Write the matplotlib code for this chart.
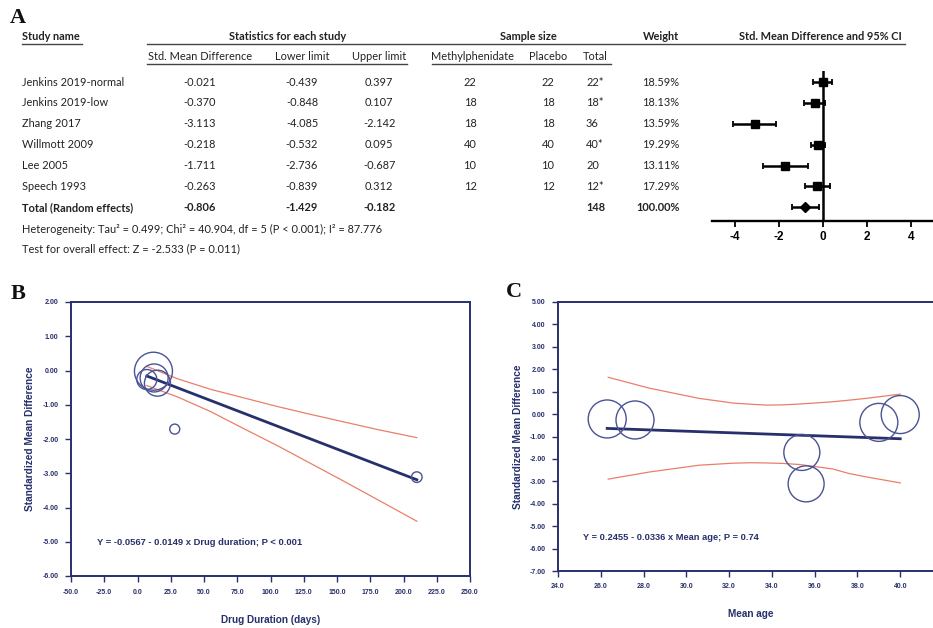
import numpy as np
import matplotlib.pyplot as plt
from matplotlib.lines import Line2D

plt.rcParams['axes.unicode_minus'] = False

# ---- panel A: forest table
studies = ['Jenkins 2019-normal', 'Jenkins 2019-low', 'Zhang 2017',
           'Willmott 2009', 'Lee 2005', 'Speech 1993']
smd = [-0.021, -0.370, -3.113, -0.218, -1.711, -0.263]
lower = [-0.439, -0.848, -4.085, -0.532, -2.736, -0.839]
upper = [0.397, 0.107, -2.142, 0.095, -0.687, 0.312]
n_mph = [22, 18, 18, 40, 10, 12]
n_placebo = [22, 18, 18, 40, 10, 12]
n_total = ['22*', '18*', '36', '40*', '20', '12*']
weight = [18.59, 18.13, 13.59, 19.29, 13.11, 17.29]
total_smd, total_lo, total_hi = -0.806, -1.429, -0.182
total_n = 148
total_w = 100.00
het_text = 'Heterogeneity: Tau\u00b2 = 0.499; Chi\u00b2 = 40.904, df = 5 (P < 0.001); I\u00b2 = 87.776'
test_text = 'Test for overall effect: Z = -2.533 (P = 0.011)'

# ---- panel B: meta-regression on drug duration
duration = [12, 15, 210, 12.5, 28, 7]
b_line_x = [7, 210]
b_line_y = [-0.16, -3.19]
b_ci_x = [7, 30, 55, 80, 105, 130, 155, 180, 210]
b_ci_hi = [0.12, -0.24, -0.55, -0.80, -1.05, -1.28, -1.50, -1.72, -1.96]
b_ci_lo = [-0.44, -0.77, -1.20, -1.70, -2.19, -2.71, -3.23, -3.76, -4.40]
b_eq = 'Y = -0.0567 - 0.0149 x Drug duration; P < 0.001'

# ---- panel C: meta-regression on mean age
mean_age = [40.0, 39.0, 35.6, 26.3, 35.4, 27.6]
c_line_x = [26.3, 40.0]
c_line_y = [-0.64, -1.10]
c_ci_x = [26.35, 28.3, 30.6, 32.2, 33.0, 33.75, 34.5, 35.3, 36.1, 36.85, 37.6, 38.4, 40.0]
c_ci_hi = [1.64, 1.15, 0.70, 0.49, 0.44, 0.40, 0.41, 0.45, 0.50, 0.55, 0.62, 0.70, 0.89]
c_ci_lo = [-2.90, -2.58, -2.28, -2.19, -2.17, -2.18, -2.20, -2.25, -2.35, -2.45, -2.65, -2.80, -3.07]
c_eq = 'Y = 0.2455 - 0.0336 x Mean age; P = 0.74'

# bubble radii in pixels
b_radius = [19, 13, 5.3, 14, 5, 10]
c_radius = [19, 19, 18, 19, 18, 19]

W, H = 933, 628
fig = plt.figure(figsize=(W / 100, H / 100), dpi=100)

NAVY = '#27306b'
CIRC = '#4a5394'
RED = '#ea7f68'
TXT = '#222222'
tfont = 'Lato'
tsize = 7.9


def fx(x):
    return x / W


def fy(y):
    return 1 - y / H


def put(x, y, s, ha='left', bold=False):
    fig.text(fx(x), fy(y), s, ha=ha, va='center', family=tfont, size=tsize,
             color=TXT, weight='bold' if bold else 'normal')


def hline(x0, x1, y):
    fig.add_artist(Line2D([fx(x0), fx(x1)], [fy(y), fy(y)],
                          transform=fig.transFigure, color='#444444', lw=1.0))


# panel letters
for lab, x, y in [('A', 10, 18), ('B', 11, 294), ('C', 506, 292)]:
    fig.text(fx(x), fy(y), lab, family='Liberation Serif', weight='bold',
             size=16, va='center', ha='left', color='#111111')

# headers
put(22, 37, 'Study name', bold=True)
put(288, 37, 'Statistics for each study', ha='center', bold=True)
put(528, 37, 'Sample size', ha='center', bold=True)
put(661, 37, 'Weight', ha='center', bold=True)
put(820, 37, 'Std. Mean Difference and 95% CI', ha='center', bold=True)
hline(22, 82, 44)
hline(147, 905, 44)
put(200, 57, 'Std. Mean Difference', ha='center')
put(302, 57, 'Lower limit', ha='center')
put(379, 57, 'Upper limit', ha='center')
put(473, 57, 'Methylphenidate', ha='center')
put(548, 57, 'Placebo', ha='center')
put(595, 57, 'Total', ha='center')
hline(147, 407, 64)
hline(432, 611, 64)

row0, step = 82, 20.9
for i, name in enumerate(studies):
    y = row0 + i * step
    put(22, y, name)
    put(200, y, f'{smd[i]:.3f}', ha='center')
    put(302, y, f'{lower[i]:.3f}', ha='center')
    put(379, y, f'{upper[i]:.3f}', ha='center')
    put(470, y, str(n_mph[i]), ha='center')
    put(548, y, str(n_placebo[i]), ha='center')
    put(586, y, n_total[i])
    put(679, y, f'{weight[i]:.2f}%', ha='right')
yt = row0 + len(studies) * step
put(22, yt, 'Total (Random effects)', bold=True)
put(200, yt, f'{total_smd:.3f}', ha='center', bold=True)
put(302, yt, f'{total_lo:.3f}', ha='center', bold=True)
put(379, yt, f'{total_hi:.3f}', ha='center', bold=True)
put(586, yt, str(total_n), bold=True)
put(680, yt, f'{total_w:.2f}%', ha='right', bold=True)
put(22, 229, het_text)
put(22, 249, test_text)

# forest plot
axf = fig.add_axes([fx(712), fy(221), (933 - 712) / W, 150 / H])
rows = np.arange(len(studies))
sm = np.array(smd)
axf.errorbar(sm, rows, xerr=[sm - np.array(lower), np.array(upper) - sm],
             fmt='s', color='black', ms=5.5, elinewidth=1.8, capsize=2.2, capthick=1.3)
axf.errorbar([total_smd], [len(studies)], xerr=[[total_smd - total_lo], [total_hi - total_smd]],
             fmt='D', color='black', ms=5, elinewidth=1.8, capsize=2.2, capthick=1.3)
axf.axvline(0, color='black', lw=1.8)
axf.set_xlim(-5.05, 5.0)
axf.set_ylim((221 - row0) / step, (71 - row0) / step)
for s in ['top', 'left', 'right']:
    axf.spines[s].set_visible(False)
axf.spines['bottom'].set_linewidth(1.7)
axf.set_yticks([])
axf.set_xticks([-4, -2, 0, 2, 4])
axf.tick_params(axis='x', direction='out', length=4, width=1.3, labelsize=8.5, pad=3)
for t in axf.get_xticklabels():
    t.set_fontweight('bold')
    t.set_family('Liberation Sans')
axf.patch.set_alpha(0)


def bubble_axes(rect, xlim, ylim, xticks, yticks, xlabel):
    ax = fig.add_axes(rect)
    ax.set_xlim(*xlim)
    ax.set_ylim(*ylim)
    ax.set_xticks(xticks)
    ax.set_yticks(yticks)
    ax.set_xticklabels([f'{v:.1f}' for v in xticks])
    ax.set_yticklabels([f'{v:.2f}' for v in yticks])
    for s in ax.spines.values():
        s.set_color(NAVY)
        s.set_linewidth(1.4)
    ax.tick_params(direction='out', length=4, width=1.0, color=NAVY,
                   labelsize=5, labelcolor=NAVY, pad=5)
    for t in ax.get_xticklabels() + ax.get_yticklabels():
        t.set_fontweight('bold')
        t.set_family('Liberation Sans')
    ax.set_ylabel('Standardized Mean Difference', color=NAVY, fontsize=7.3,
                  fontweight='bold', family='Liberation Sans')
    ax.set_xlabel(xlabel, color=NAVY, fontsize=7.2, fontweight='bold',
                  family='Liberation Sans')
    return ax


def px_to_s(r):
    return (2 * r * 0.72) ** 2


# panel B
axb = bubble_axes([fx(71), fy(576), 399 / W, 274 / H], (-50, 250), (-6, 2),
                  np.arange(-50, 251, 25.0), np.arange(-6, 2.1, 1.0),
                  'Drug Duration (days)')
axb.yaxis.set_label_coords(-0.090, 0.5)
axb.xaxis.set_label_coords(0.5, -0.142)
axb.plot(b_ci_x, b_ci_hi, color=RED, lw=0.9)
axb.plot(b_ci_x, b_ci_lo, color=RED, lw=0.9)
axb.plot(b_line_x, b_line_y, color=NAVY, lw=2.0)
axb.scatter(duration, smd, s=[px_to_s(r) for r in b_radius], facecolors='none',
            edgecolors=CIRC, linewidths=1.0, zorder=3)
axb.text(0.065, 0.124, b_eq, transform=axb.transAxes, color=NAVY, fontsize=6.75,
         fontweight='bold', family='Liberation Sans', va='center')

# panel C (frame runs past the right edge of the picture)
axc = bubble_axes([fx(558), fy(571), 385 / W, 269 / H], (24, 42), (-7, 5),
                  np.arange(24, 40.1, 2.0), np.arange(-7, 5.1, 1.0), 'Mean age')
axc.yaxis.set_label_coords(-0.091, 0.5)
axc.xaxis.set_label_coords(0.5, -0.141)
axc.plot(c_ci_x, c_ci_hi, color=RED, lw=0.9)
axc.plot(c_ci_x, c_ci_lo, color=RED, lw=0.9)
axc.plot(c_line_x, c_line_y, color=NAVY, lw=2.0)
axc.scatter(mean_age, smd, s=[px_to_s(r) for r in c_radius], facecolors='none',
            edgecolors=CIRC, linewidths=1.0, zorder=3)
axc.text(0.065, 0.123, c_eq, transform=axc.transAxes, color=NAVY, fontsize=6.7,
         fontweight='bold', family='Liberation Sans', va='center')

fig.savefig('out.png', dpi=100)
